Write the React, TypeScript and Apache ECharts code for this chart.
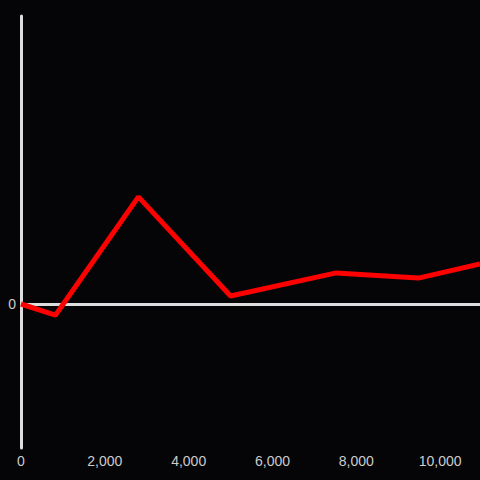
import React, { useEffect, useRef } from "react";
import * as echarts from "echarts";

const xValues = [0, 820, 2800, 5000, 7520, 9480, 10950];
const yValues = [0, -3.9, 37.2, 2.8, 10.8, 9.0, 13.9];

export default function App() {
  const ref = useRef<HTMLDivElement>(null);
  useEffect(() => {
    if (!ref.current) return;
    const chart = echarts.init(ref.current, null, { renderer: "svg" });
    chart.setOption({
      animation: false,
      backgroundColor: "#050407",
      grid: { left: 21, right: 0, top: 16, bottom: 32 },
      xAxis: {
        type: "value",
        min: 0,
        max: "dataMax",
        interval: 2000,
        axisLine: { show: false },
        axisTick: { show: false },
        splitLine: { show: false },
        axisLabel: {
          color: "#cccccc",
          fontSize: 14,
          fontFamily: "Liberation Sans, Arial, sans-serif",
          margin: 6,
          showMaxLabel: false,
          formatter: (v: number) => v.toLocaleString("en-US"),
        },
      },
      yAxis: {
        type: "value",
        min: -50,
        max: 100,
        interval: 50,
        axisLine: { show: true, onZero: false, lineStyle: { color: "#dddddd", width: 3 } },
        axisTick: { show: false },
        splitLine: { show: false },
        axisLabel: {
          color: "#cccccc",
          fontSize: 14,
          fontFamily: "Liberation Sans, Arial, sans-serif",
          margin: 5,
          formatter: (v: number) => (v === 0 ? "0" : ""),
        },
      },
      series: [
        {
          type: "line",
          data: xValues.map((x, i) => [x, yValues[i]]),
          showSymbol: false,
          lineStyle: { color: "#ff0000", width: 5 },
          z: 3,
          markLine: {
            silent: true,
            symbol: "none",
            label: { show: false },
            lineStyle: { color: "#dddddd", width: 3, type: "solid" },
            data: [{ yAxis: 0 }],
            z: 2,
          },
        },
      ],
    });
    return () => chart.dispose();
  }, []);
  return (
    <div
      ref={ref}
      style={{ position: "fixed", left: 0, top: 0, width: 480, height: 480 }}
    />
  );
}
